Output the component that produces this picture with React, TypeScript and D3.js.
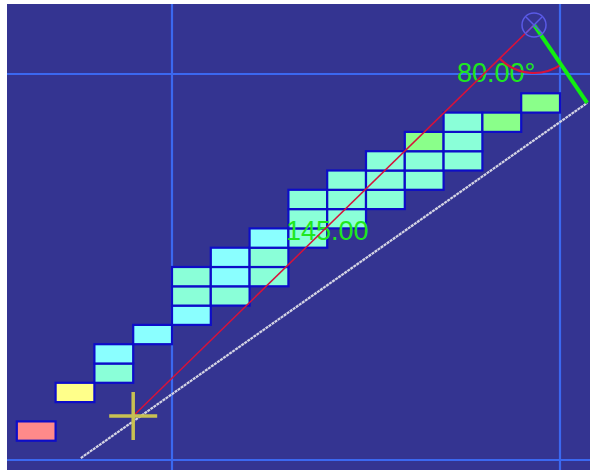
import React from 'react';
import * as d3 from 'd3';

// 2D histogram bins (x bin, y bin, count)
const binX = [-4, -3, -2, -2, -1, 0, 0, 0, 1, 1, 1, 2, 2, 2, 3, 3, 3, 4, 4, 4, 5, 5, 5, 6, 6, 6, 7, 7, 7, 8, 9];
const binY = [1, 3, 4, 5, 6, 7, 8, 9, 8, 9, 10, 9, 10, 11, 11, 12, 13, 12, 13, 14, 13, 14, 15, 14, 15, 16, 15, 16, 17, 17, 18];
const binCount = [5, 4, 2, 1, 1, 1, 2, 2, 2, 1, 1, 2, 2, 1, 2, 2, 2, 2, 2, 2, 2, 2, 2, 2, 2, 3, 2, 2, 2, 3, 3];

const xTicks = [0, 10];
const yTicks = [0, 20];

// measuring overlay (data units)
const fitLine = [[-2.35, 0.1], [10.7, 18.5]];
const cursorPt = [-1.0, 2.28];
const apexPt = [9.33, 22.54];
const lengthLabel = '145.00';
const angleLabel = '80.00°';

const W = 590;
const H = 470;

const App = () => {
  const x = d3.scaleLinear().domain([0, 10]).range([172, 560]);
  const y = d3.scaleLinear().domain([0, 20]).range([460, 74]);

  const hue = d3.scaleLinear().domain([1, 2, 3, 4, 5]).range([180, 160, 120, 60, 0]);
  const fillFor = (c) => d3.hsl(hue(c), 1, 0.77).formatHex();

  const ax = x(apexPt[0]);
  const ay = y(apexPt[1]);
  const cx = x(cursorPt[0]);
  const cy = y(cursorPt[1]);
  const ex = x(fitLine[1][0]);
  const ey = y(fitLine[1][1]);

  // angle arc between red ray and green ray at apex
  const a1 = Math.atan2(ey - ay, ex - ax) + Math.PI / 2;
  const a2 = Math.atan2(cy - ay, cx - ax) + Math.PI / 2;
  const arcPath = d3.arc()({
    innerRadius: 48,
    outerRadius: 48,
    startAngle: a1,
    endAngle: a2,
  });

  const line = d3.line();

  return (
    <svg
      width={W}
      height={H}
      style={{ position: 'absolute', left: 0, top: 0, fontFamily: 'Liberation Sans, Arial, sans-serif' }}
    >
      <rect x={7} y={4} width={W - 7} height={H - 4} fill="#343491" />

      {/* grid */}
      {xTicks.map((t) => (
        <line key={'gx' + t} x1={x(t)} x2={x(t)} y1={4} y2={H} stroke="#3b68f0" strokeWidth={2.2} />
      ))}
      {yTicks.map((t) => (
        <line key={'gy' + t} x1={7} x2={W} y1={y(t)} y2={y(t)} stroke="#3b68f0" strokeWidth={2.2} />
      ))}

      {/* bins */}
      {binX.map((bx, i) => (
        <rect
          key={'b' + i}
          x={x(bx)}
          y={y(binY[i] + 1)}
          width={x(bx + 1) - x(bx)}
          height={y(binY[i]) - y(binY[i] + 1)}
          fill={fillFor(binCount[i])}
          stroke="#0d0dc8"
          strokeWidth={2.2}
        />
      ))}

      {/* fit line */}
      <path
        d={line(fitLine.map((p) => [x(p[0]), y(p[1])]))}
        fill="none"
        stroke="#d4d4e4"
        strokeWidth={2.2}
        strokeDasharray="3,0.7"
      />

      <text x={286} y={240} fill="#1ee81e" fontSize={27}>{lengthLabel}</text>
      <text x={457} y={82} fill="#1ee81e" fontSize={27}>{angleLabel}</text>

      {/* measure ray */}
      <path d={line([[cx, cy], [ax, ay]])} fill="none" stroke="#d8123a" strokeWidth={1.5} />
      <path d={arcPath} transform={`translate(${ax},${ay})`} fill="none" stroke="#d8123a" strokeWidth={2.2} />
      <path d={line([[ax, ay], [ex, ey]])} fill="none" stroke="#11ee11" strokeWidth={4} />

      {/* apex handle */}
      <circle cx={ax} cy={ay} r={12} fill="none" stroke="#5a5ae6" strokeWidth={1.5} />
      <path
        d={`M${ax - 8},${ay - 8}L${ax + 8},${ay + 8}M${ax - 8},${ay + 8}L${ax + 8},${ay - 8}`}
        stroke="#5a5ae6"
        strokeWidth={1.5}
      />

      {/* cursor cross */}
      <path
        d={`M${cx - 24},${cy}L${cx + 24},${cy}M${cx},${cy - 24}L${cx},${cy + 24}`}
        stroke="#c8c152"
        strokeWidth={3.5}
      />
    </svg>
  );
};

export default App;
